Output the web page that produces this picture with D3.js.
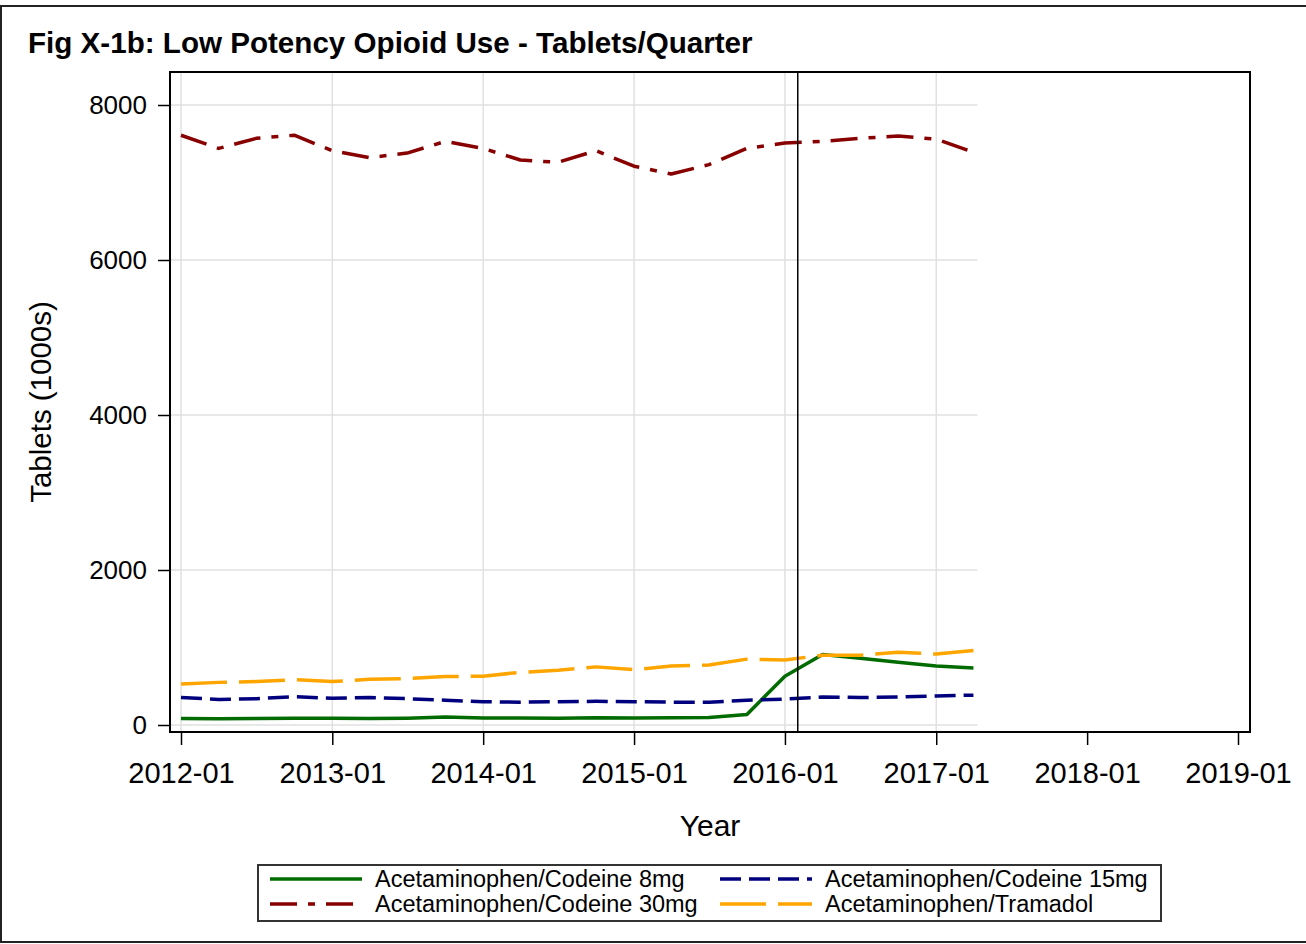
<!DOCTYPE html>
<html>
<head>
<meta charset="utf-8">
<script src="https://cdn.jsdelivr.net/npm/d3@7"></script>
<style>
  body { margin: 0; background: #fff; }
  svg { display: block; font-family: "Liberation Sans", Arial, Helvetica, sans-serif; }
</style>
</head>
<body>
<div id="wrapper"></div>
<script>
// quarterly data, tablets in 1000s
const quarters = [
  "2012-01-01", "2012-04-01", "2012-07-01", "2012-10-01",
  "2013-01-01", "2013-04-01", "2013-07-01", "2013-10-01",
  "2014-01-01", "2014-04-01", "2014-07-01", "2014-10-01",
  "2015-01-01", "2015-04-01", "2015-07-01", "2015-10-01",
  "2016-01-01", "2016-04-01", "2016-07-01", "2016-10-01",
  "2017-01-01", "2017-04-01"
]
const codeine8mg  = [85, 80, 83, 88, 88, 83, 88, 102, 90, 90, 88, 95, 90, 92, 98, 135, 630, 910, 860, 810, 760, 735]
const codeine15mg = [355, 330, 340, 365, 345, 355, 340, 320, 300, 295, 300, 305, 300, 295, 295, 320, 335, 360, 355, 360, 375, 385]
const codeine30mg = [7610, 7440, 7570, 7610, 7410, 7320, 7380, 7530, 7440, 7290, 7260, 7410, 7210, 7110, 7230, 7440, 7510, 7530, 7570, 7600, 7560, 7390]
const tramadol    = [530, 550, 560, 585, 560, 590, 600, 625, 630, 680, 705, 750, 715, 760, 775, 850, 840, 900, 900, 940, 915, 960]

const seriesNames = [
  "Acetaminophen/Codeine 8mg",
  "Acetaminophen/Codeine 15mg",
  "Acetaminophen/Codeine 30mg",
  "Acetaminophen/Tramadol"
]
const xTickLabels = ["2012-01", "2013-01", "2014-01", "2015-01", "2016-01", "2017-01", "2018-01", "2019-01"]
const yTickValues = [0, 2000, 4000, 6000, 8000]
const refLineDate = "2016-02-01"

const titleText = "Fig X-1b: Low Potency Opioid Use - Tablets/Quarter"
const xTitle = "Year"
const yTitle = "Tablets (1000s)"

function drawLineChart() {
  const dimensions = {
    width: 1306,
    height: 944,
    margin: { top: 72, right: 56, bottom: 212, left: 170 },
  }
  const plotRight = dimensions.width - dimensions.margin.right
  const plotBottom = dimensions.height - dimensions.margin.bottom

  const dateParser = d3.timeParse("%Y-%m-%d")
  const tickParser = d3.timeParse("%Y-%m")

  const series = [
    { name: seriesNames[0], values: codeine8mg,  color: "#006b00", dash: null },
    { name: seriesNames[1], values: codeine15mg, color: "#00007f", dash: "21,8" },
    { name: seriesNames[2], values: codeine30mg, color: "#880000", dash: "27,11,7,11" },
    { name: seriesNames[3], values: tramadol,    color: "#ffa500", dash: "46,12" },
  ]
  series.forEach(s => {
    s.points = quarters.map((q, i) => ({ date: dateParser(q), value: s.values[i] }))
  })

  const xAccessor = d => d.date
  const yAccessor = d => d.value

  const xScale = d3.scaleTime()
    .domain([tickParser(xTickLabels[0]), tickParser(xTickLabels[xTickLabels.length - 1])])
    .range([181, 1238])
  const yScale = d3.scaleLinear()
    .domain([0, 8000])
    .range([725, 105])

  const wrapper = d3.select("#wrapper")
    .append("svg")
      .attr("width", dimensions.width)
      .attr("height", dimensions.height)

  wrapper.append("rect")
    .attr("width", dimensions.width)
    .attr("height", dimensions.height)
    .attr("fill", "#fff")

  // outer border
  wrapper.append("rect")
    .attr("x", 1).attr("y", 6)
    .attr("width", dimensions.width + 10).attr("height", 936)
    .attr("fill", "none").attr("stroke", "#222").attr("stroke-width", 2)

  wrapper.append("text")
    .attr("x", 28).attr("y", 53)
    .text(titleText)
    .style("font-size", "29.6px").style("font-weight", "bold")

  // grid only covers the data range
  const lastDate = dateParser(quarters[quarters.length - 1])
  const gridRight = xScale(lastDate) + 4
  const grid = wrapper.append("g")
  grid.selectAll(".hgrid")
    .data(yTickValues)
    .join("line")
      .attr("x1", dimensions.margin.left).attr("x2", gridRight)
      .attr("y1", d => yScale(d)).attr("y2", d => yScale(d))
      .attr("stroke", "#e1e1e1").attr("stroke-width", 1.5)
  grid.selectAll(".vgrid")
    .data(xTickLabels.map(tickParser).filter(d => d <= lastDate))
    .join("line")
      .attr("x1", d => xScale(d)).attr("x2", d => xScale(d))
      .attr("y1", dimensions.margin.top).attr("y2", plotBottom)
      .attr("stroke", "#e1e1e1").attr("stroke-width", 1.5)

  // lines
  const lineGenerator = d3.line()
    .x(d => xScale(xAccessor(d)))
    .y(d => yScale(yAccessor(d)))
  series.forEach(s => {
    wrapper.append("path")
      .attr("d", lineGenerator(s.points))
      .attr("fill", "none")
      .attr("stroke", s.color)
      .attr("stroke-width", 3.5)
      .attr("stroke-dasharray", s.dash)
      .attr("stroke-linejoin", "round")
  })

  // reference line
  const refX = xScale(dateParser(refLineDate))
  wrapper.append("line")
    .attr("x1", refX).attr("x2", refX)
    .attr("y1", dimensions.margin.top).attr("y2", plotBottom)
    .attr("stroke", "#000").attr("stroke-width", 1.5)

  // plot frame
  wrapper.append("rect")
    .attr("x", dimensions.margin.left).attr("y", dimensions.margin.top)
    .attr("width", plotRight - dimensions.margin.left)
    .attr("height", plotBottom - dimensions.margin.top)
    .attr("fill", "none").attr("stroke", "#000").attr("stroke-width", 2)

  const yAxisGenerator = d3.axisLeft(yScale)
    .tickValues(yTickValues)
    .tickSize(12)
    .tickPadding(11)
    .tickFormat(d3.format("d"))
  const yAxis = wrapper.append("g")
    .attr("transform", `translate(${dimensions.margin.left},0)`)
    .call(yAxisGenerator)
  yAxis.select(".domain").remove()
  yAxis.selectAll("line").attr("stroke", "#000").attr("stroke-width", 1.5)
  yAxis.selectAll("text").style("font-size", "26px").attr("fill", "#000")
    .style("font-family", "'Liberation Sans', Arial, sans-serif")

  const xAxisGenerator = d3.axisBottom(xScale)
    .tickValues(xTickLabels.map(tickParser))
    .tickFormat(d3.timeFormat("%Y-%m"))
    .tickSize(13)
    .tickPadding(17)
  const xAxis = wrapper.append("g")
    .attr("transform", `translate(0,${plotBottom})`)
    .call(xAxisGenerator)
  xAxis.select(".domain").remove()
  xAxis.selectAll("line").attr("stroke", "#000").attr("stroke-width", 1.5)
  xAxis.selectAll("text").style("font-size", "29px").attr("fill", "#000")
    .style("font-family", "'Liberation Sans', Arial, sans-serif")

  wrapper.append("text")
    .attr("x", (dimensions.margin.left + plotRight) / 2).attr("y", 836)
    .attr("text-anchor", "middle")
    .text(xTitle)
    .style("font-size", "30px")

  wrapper.append("text")
    .attr("transform", `translate(51,${(dimensions.margin.top + plotBottom) / 2}) rotate(-90)`)
    .attr("text-anchor", "middle")
    .text(yTitle)
    .style("font-size", "29.5px")

  // legend
  const legendGroup = wrapper.append("g")
  legendGroup.append("rect")
    .attr("x", 258).attr("y", 865)
    .attr("width", 903).attr("height", 56)
    .attr("fill", "none").attr("stroke", "#333").attr("stroke-width", 2)

  const legendSpots = [
    { x: 270, y: 879 }, { x: 720, y: 879 },
    { x: 270, y: 904 }, { x: 720, y: 904 },
  ]
  series.forEach((s, i) => {
    const spot = legendSpots[i]
    legendGroup.append("line")
      .attr("x1", spot.x).attr("x2", spot.x + 92)
      .attr("y1", spot.y).attr("y2", spot.y)
      .attr("stroke", s.color).attr("stroke-width", 3.5)
      .attr("stroke-dasharray", s.dash)
    legendGroup.append("text")
      .attr("x", spot.x + 105).attr("y", spot.y)
      .attr("dy", "0.35em")
      .text(s.name)
      .style("font-size", "23.5px")
  })
}
drawLineChart()
</script>
</body>
</html>
